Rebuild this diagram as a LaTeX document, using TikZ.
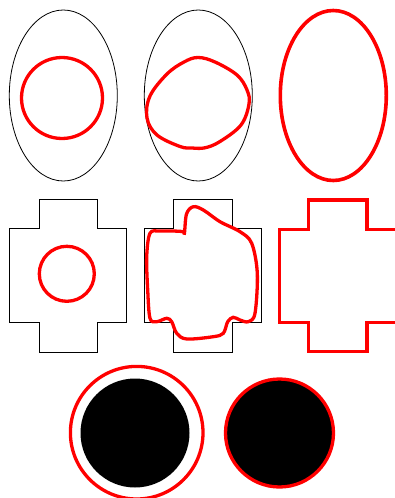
\documentclass[tikz,border=0pt]{standalone}
\usepackage{tikz}
\definecolor{ShapeRed}{RGB}{255,0,0}

\begin{document}
\begin{tikzpicture}[x=1pt, y=-1pt,
    region/.style={draw=black, line width=0.8pt},
    curve/.style={draw=ShapeRed, line width=3.3pt},
    target/.style={draw=ShapeRed, line width=3.6pt},
    disk/.style={fill=black}
]
    \useasboundingbox (0,0) rectangle (395,498);

    % row 1: ellipse
    \draw[region] (63.3,95.5) ellipse [x radius=54, y radius=85.5];
    \draw[curve] (62,98) circle [radius=40.5];

    \draw[region] (198.3,95.5) ellipse [x radius=54, y radius=85.5];
    \draw[curve] plot[smooth cycle, tension=0.6] coordinates {
        (198,57.5) (215,62) (237,75) (247,90) (249,104) (241,125) (220,141.5)
        (205,147.8) (192,148) (180,146.5) (157,135) (147,118) (150,96)
        (167,74) (184,62)};

    \draw[target] (333.3,95.5) ellipse [x radius=53, y radius=85];

    % row 2: cross
    \draw[region] (39,199.3) -- (97.3,199.3) -- (97.3,228.3) -- (126.7,228.3)
        -- (126.7,322.3) -- (97.3,322.3) -- (97.3,352.3) -- (39,352.3)
        -- (39,322.3) -- (9.3,322.3) -- (9.3,228.3) -- (39,228.3) -- cycle;
    \draw[curve] (66.8,273.8) circle [radius=27.5];

    \draw[region] (173.3,199.3) -- (232.3,199.3) -- (232.3,228.3) -- (261.3,228.3)
        -- (261.3,322.3) -- (232.3,322.3) -- (232.3,352.3) -- (173.3,352.3)
        -- (173.3,322.3) -- (144.3,322.3) -- (144.3,228.3) -- (173.3,228.3) -- cycle;
    \draw[curve] plot[smooth cycle, tension=0.55] coordinates {
        (182,231.5) (184.3,234) (186.5,214) (193.3,206.7) (203.3,210) (220,221.7)
        (240,231.7) (251.7,243.3) (257.3,273.3) (255,313.3) (248.3,321.7)
        (240,320) (233.3,317.3) (227.7,321.7) (223.3,333.3) (213.3,336.7)
        (186.7,339) (176.7,333.3) (171.7,321.7) (166.7,318.3) (156.7,321.7)
        (150,318.3) (147.7,290) (146.7,256.7) (150,233.3) (160,231)};

    \draw[target] (308.3,200) -- (366.7,200) -- (366.7,229.3) -- (396.7,229.3)
        -- (396.7,322.3) -- (366.7,322.3) -- (366.7,351.5) -- (308.3,351.5)
        -- (308.3,322.3) -- (279.3,322.3) -- (279.3,229.3) -- (308.3,229.3) -- cycle;

    % row 3: disk
    \fill[disk] (135,433) circle [radius=54.5];
    \draw[curve] (136.7,432.7) circle [radius=66.3];

    \draw[curve, disk] (279.5,433) circle [radius=54];
\end{tikzpicture}
\end{document}
